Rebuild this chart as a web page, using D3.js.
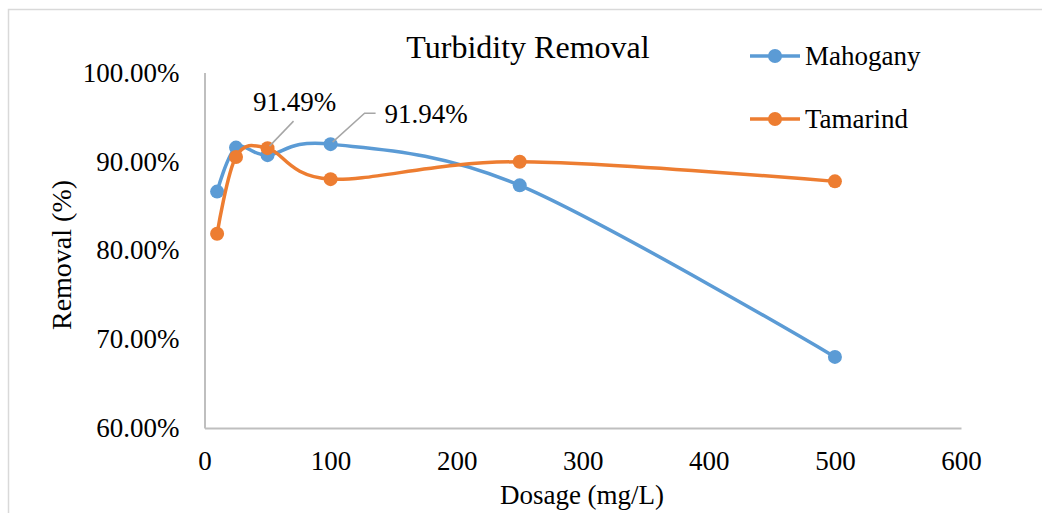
<!DOCTYPE html>
<html>
<head>
<meta charset="utf-8">
<script src="https://cdn.jsdelivr.net/npm/d3@7"></script>
<style>
  body { margin: 0; background: #fff; }
  svg text { font-family: "Liberation Serif", "Times New Roman", serif !important; fill: #000; }
</style>
</head>
<body>
<div class="chart"></div>
<script>
// data
const dosage = [10, 25, 50, 100, 250, 500];
const mahogany = [0.866, 0.9155, 0.907, 0.9194, 0.873, 0.680];
const tamarind = [0.8185, 0.905, 0.9149, 0.880, 0.8995, 0.8775];
const seriesNames = ['Mahogany', 'Tamarind'];
const seriesColors = ['#5B9BD5', '#ED7D31'];
const xTicks = [0, 100, 200, 300, 400, 500, 600];
const yTicks = [0.6, 0.7, 0.8, 0.9, 1.0];

const width = 1042, height = 513;
const svg = d3.select('.chart').append('svg')
    .attr('width', width)
    .attr('height', height);

// outer chart border
svg.append('rect')
    .attr('x', 8.5).attr('y', 9.5)
    .attr('width', width + 20).attr('height', height + 20)
    .attr('fill', 'none').attr('stroke', '#d9d9d9').attr('stroke-width', 1.5);

let x = d3.scaleLinear().domain([0, 600]).range([204.5, 961]);
let y = d3.scaleLinear().domain([0.6, 1.0]).range([428, 72.5]);

// axes
let gx = svg.append('g')
    .attr('transform', 'translate(0,' + y(0.6) + ')')
    .call(d3.axisBottom(x).tickValues(xTicks).tickSize(0).tickPadding(23));
let gy = svg.append('g')
    .attr('transform', 'translate(' + x(0) + ',0)')
    .call(d3.axisLeft(y).tickValues(yTicks).tickSize(0).tickPadding(25).tickFormat(d3.format('.2%')));
[gx, gy].forEach(g => {
    g.select('.domain').attr('stroke', '#bfbfbf').attr('stroke-width', 2);
    g.selectAll('text').attr('font-size', 27);
});

// title and axis titles
svg.append('text')
    .attr('x', 528).attr('y', 58)
    .attr('text-anchor', 'middle')
    .attr('font-size', 32)
    .text('Turbidity Removal');
svg.append('text')
    .attr('x', 582).attr('y', 504)
    .attr('text-anchor', 'middle')
    .attr('font-size', 27)
    .text('Dosage (mg/L)');
svg.append('text')
    .attr('transform', 'translate(71,255) rotate(-90)')
    .attr('text-anchor', 'middle')
    .attr('font-size', 28)
    .text('Removal (%)');

// series
const allSeries = [mahogany, tamarind];
const line = d3.line()
    .x((d, i) => x(dosage[i]))
    .y(d => y(d))
    .curve(d3.curveCardinal.tension(0));

allSeries.forEach((vals, s) => {
    let g = svg.append('g').attr('class', 'series' + s);
    g.append('path')
        .attr('d', line(vals))
        .attr('fill', 'none')
        .attr('stroke', seriesColors[s])
        .attr('stroke-width', 3.5)
        .attr('stroke-linecap', 'round');
    g.selectAll('circle')
        .data(vals)
        .enter()
        .append('circle')
        .attr('cx', (d, i) => x(dosage[i]))
        .attr('cy', d => y(d))
        .attr('r', 7)
        .attr('fill', seriesColors[s]);
});

// data labels with leader lines
const fmt = d3.format('.2%');
let px = x(dosage[2]), py = y(tamarind[2]);
svg.append('path')
    .attr('d', 'M' + (px + 2) + ',' + (py - 2) + 'L' + (px + 26) + ',' + (py - 27))
    .attr('stroke', '#a6a6a6').attr('stroke-width', 1.5).attr('fill', 'none');
svg.append('text')
    .attr('x', px + 27).attr('y', py - 37)
    .attr('text-anchor', 'middle')
    .attr('font-size', 27)
    .text(fmt(tamarind[2]));

px = x(dosage[3]); py = y(mahogany[3]);
svg.append('path')
    .attr('d', 'M' + (px + 2) + ',' + (py - 2) + 'L' + (px + 34) + ',' + (py - 31) + 'L' + (px + 45) + ',' + (py - 31))
    .attr('stroke', '#a6a6a6').attr('stroke-width', 1.5).attr('fill', 'none');
svg.append('text')
    .attr('x', px + 54).attr('y', py - 21)
    .attr('font-size', 27)
    .text(fmt(mahogany[3]));

// legend
let legend = svg.append('g').attr('class', 'legend');
seriesNames.forEach((name, i) => {
    let ly = 56 + i * 63;
    legend.append('line')
        .attr('x1', 750).attr('x2', 800).attr('y1', ly).attr('y2', ly)
        .attr('stroke', seriesColors[i]).attr('stroke-width', 3.5);
    legend.append('circle')
        .attr('cx', 775).attr('cy', ly).attr('r', 7)
        .attr('fill', seriesColors[i]);
    legend.append('text')
        .attr('x', 805).attr('y', ly + 9)
        .attr('font-size', 27)
        .text(name);
});
</script>
</body>
</html>
